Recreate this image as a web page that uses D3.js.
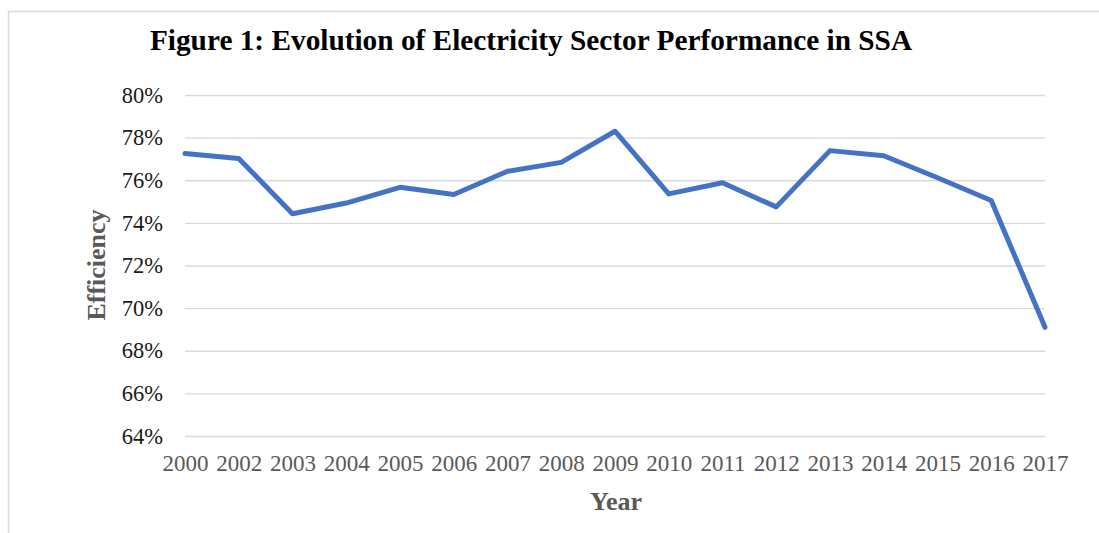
<!DOCTYPE html>
<html>
<head>
<meta charset="utf-8">
<script src="https://cdn.jsdelivr.net/npm/d3@7"></script>
<style>
  body { margin: 0; background: #fff; }
  svg { display: block; }
  .grid line { stroke: #d9d9d9; stroke-width: 1.3; }
  .grid path { display: none; }
  .axis path, .axis line { display: none; }
</style>
</head>
<body>
<svg width="1099" height="533"></svg>
<script>
// Efficiency by year (2001 is absent in the source)
var years = ["2000", "2002", "2003", "2004", "2005", "2006", "2007", "2008", "2009",
  "2010", "2011", "2012", "2013", "2014", "2015", "2016", "2017"];
var efficiency = [77.25, 77.02, 74.43, 74.93, 75.67, 75.33, 76.42, 76.84, 78.3,
  75.36, 75.88, 74.75, 77.39, 77.15, 76.12, 75.05, 69.1];
var yTicks = [64, 66, 68, 70, 72, 74, 76, 78, 80];

var svg = d3.select("svg"),
  margin = { top: 95, right: 54, bottom: 97, left: 185 },
  width = +svg.attr("width") - margin.left - margin.right,
  height = +svg.attr("height") - margin.top - margin.bottom;

// outer frame (only left and top edges show)
svg.append("path")
  .attr("d", "M8.5,533 L8.5,11.5 L1099,11.5")
  .attr("fill", "none")
  .attr("stroke", "#d9d9d9")
  .attr("stroke-width", 1.5);

var x = d3.scalePoint().domain(years).range([0, width]);
var y = d3.scaleLinear().domain([64, 80]).range([height, 0]);

var g = svg.append("g")
  .attr("transform", "translate(" + margin.left + "," + margin.top + ")");

// horizontal gridlines
g.append("g")
  .attr("class", "grid")
  .call(d3.axisLeft(y).tickValues(yTicks).tickSize(-width).tickFormat(""));

// y tick labels
g.append("g")
  .attr("class", "axis")
  .call(d3.axisLeft(y).tickValues(yTicks).tickSize(0).tickPadding(22)
    .tickFormat(function(d) { return d + "%"; }))
  .selectAll("text")
  .attr("font-family", "'Liberation Serif', 'Times New Roman', serif")
  .attr("font-size", 22.5)
  .attr("fill", "#1a1a1a");

// x tick labels
g.append("g")
  .attr("class", "axis")
  .attr("transform", "translate(0," + height + ")")
  .call(d3.axisBottom(x).tickSize(0).tickPadding(19))
  .selectAll("text")
  .attr("font-family", "'Liberation Serif', 'Times New Roman', serif")
  .attr("font-size", 23)
  .attr("fill", "#595959");

// the line
var line = d3.line()
  .x(function(d, i) { return x(years[i]); })
  .y(function(d) { return y(d); });

g.append("path")
  .datum(efficiency)
  .attr("d", line)
  .attr("fill", "none")
  .attr("stroke", "#4472c4")
  .attr("stroke-width", 5)
  .attr("stroke-linejoin", "round")
  .attr("stroke-linecap", "round");

// title
svg.append("text")
  .attr("x", 531)
  .attr("y", 50)
  .attr("text-anchor", "middle")
  .attr("font-family", "'Liberation Serif', 'Times New Roman', serif")
  .attr("font-weight", "bold")
  .attr("font-size", 29.3)
  .attr("fill", "#000")
  .text("Figure 1: Evolution of Electricity Sector Performance in SSA");

// axis titles
svg.append("text")
  .attr("transform", "translate(105,265) rotate(-90)")
  .attr("text-anchor", "middle")
  .attr("font-family", "'Liberation Serif', 'Times New Roman', serif")
  .attr("font-weight", "bold")
  .attr("font-size", 26)
  .attr("fill", "#595959")
  .text("Efficiency");

svg.append("text")
  .attr("x", 616)
  .attr("y", 510)
  .attr("text-anchor", "middle")
  .attr("font-family", "'Liberation Serif', 'Times New Roman', serif")
  .attr("font-weight", "bold")
  .attr("font-size", 26)
  .attr("fill", "#595959")
  .text("Year");
</script>
</body>
</html>
